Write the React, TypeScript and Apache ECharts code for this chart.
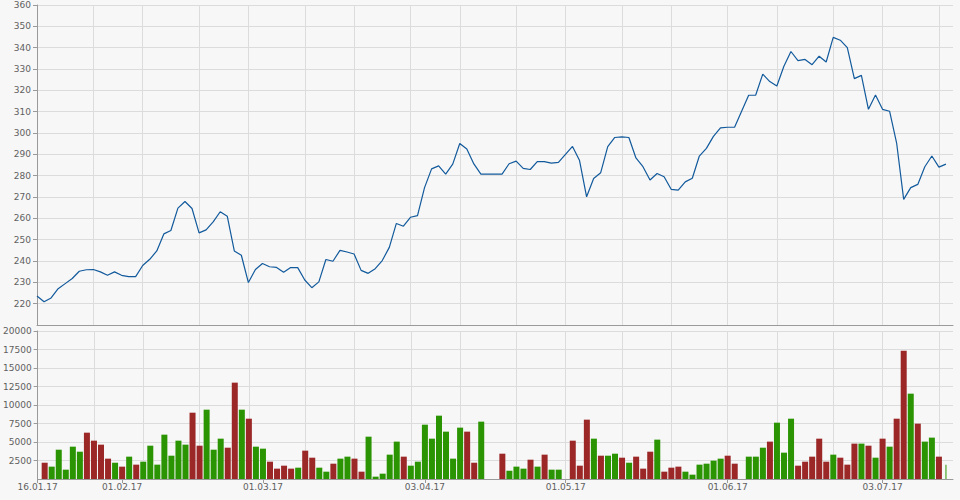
import React, { useEffect, useRef } from "react";
import * as echarts from "echarts";

// Trading-day slots (weekdays) starting 16.01.17
const firstDay = "2017-01-16";
const slotCount = 131;

// x-axis tick labels shown under the volume chart
const tickLabels = ["16.01.17", "01.02.17", "01.03.17", "03.04.17", "01.05.17", "01.06.17", "03.07.17"];

// slots carrying a vertical grid line
const gridSlots = [8, 15, 23, 30, 38, 45, 53, 60, 68, 75, 83, 90, 98, 105, 113, 120, 128];

// closing price per slot (null = no trading)
const closePrice = [
  223.6, 220.9, 222.7, 227.0, 229.4, 231.8, 235.2, 235.9, 236.0, 234.9,
  233.3, 234.9, 233.3, 232.7, 232.7, 237.9, 240.8, 244.7, 252.7, 254.3,
  264.8, 267.9, 264.6, 253.2, 254.6, 258.3, 263.1, 261.0, 244.7, 242.7,
  229.9, 236.0, 238.8, 237.3, 237.0, 234.7, 236.9, 236.9, 231.1, 227.5,
  230.2, 240.7, 239.9, 245.0, 244.2, 243.3, 235.6, 234.2, 236.4, 240.2,
  246.4, 257.6, 256.3, 260.5, 261.3, 274.4, 283.2, 284.6, 280.7, 285.4,
  295.1, 292.5, 285.5, 280.7, null, null, 280.7, 285.6, 286.8, 283.4,
  282.9, 286.6, 286.6, 285.9, 286.2, null, 293.7, 287.1, 270.1, 278.7,
  281.4, 293.6, 297.9, 298.2, 297.9, 288.3, 284.2, 278.0, 281.0, 279.5,
  273.6, 273.2, 277.1, 278.8, 289.2, 292.8, 298.4, 302.4, 302.7, 302.7,
  null, 317.7, 317.8, 327.6, 324.1, 322.0, 331.3, 338.2, 333.9, 334.5,
  332.0, 336.0, 333.3, 344.8, 343.5, 340.0, 325.5, 327.0, 311.1, 317.8,
  311.1, 310.2, 295.3, 268.9, 274.4, 275.9, 284.2, 289.2, 284.0, 285.4,
  null,
];

// traded volume per slot
const volume = [
  null, 2200, 1670, 3960, 1260, 4370, 3690, 6260, 5180, 4640,
  2750, 2200, 1670, 3020, 1940, 2340, 4500, 1940, 5990, 3150,
  5180, 4640, 8960, 4500, 9370, 3960, 5450, 4230, 13020, 9370,
  8150, 4370, 4100, 2340, 1400, 1800, 1400, 1530, 3830, 2880,
  1530, 990, 2070, 2750, 3020, 2750, 990, 5720, 315, 720,
  3290, 5050, 3020, 1800, 2340, 7340, 5450, 8560, 6400, 2750,
  6940, 6400, 2200, 7750, null, null, 3420, 1130, 1670, 1400,
  2610, 1670, 3290, 1260, 1260, null, 5180, 1800, 8020, 5450,
  3150, 3150, 3420, 2880, 2200, 3020, 1400, 3690, 5320, 990,
  1530, 1670, 990, 585, 1940, 2070, 2480, 2750, 3150, 2070,
  null, 3020, 3020, 4230, 5050, 7610, 3560, 8150, 1800, 2340,
  3020, 5450, 2340, 3290, 2880, 1940, 4780, 4780, 4500, 2880,
  5450, 4370, 8150, 17340, 11530, 7480, 5050, 5590, 3020, 1940,
  null,
];

// u = up day (green), d = down day (red), - = no bar
const direction = (
  "-duuuuuddd" + "dududuuuuu" + "uudduuuddu" + "duuddddudd" + "uuduudduuu" +
  "uuduuuuuuu" + "uddu--duuu" + "duduu-dddu" + "duududddud" + "dduuuuuudd" +
  "-uuuduuudd" + "dddudddudu" + "dudduduudu" + "-"
).split("");

// the last traded day is still running: drawn as a hairline bar
const lastDayPartial = true;

function makeSlots(start: string, n: number): string[] {
  const out: string[] = [];
  const d = new Date(start + "T12:00:00Z");
  while (out.length < n) {
    const wd = d.getUTCDay();
    if (wd !== 0 && wd !== 6) {
      const dd = String(d.getUTCDate()).padStart(2, "0");
      const mm = String(d.getUTCMonth() + 1).padStart(2, "0");
      const yy = String(d.getUTCFullYear()).slice(2);
      out.push(`${dd}.${mm}.${yy}`);
    }
    d.setUTCDate(d.getUTCDate() + 1);
  }
  return out;
}

const UP = "#2b9402";
const DOWN = "#9b2727";
const AXIS = "#9a9a9a";
const GRID = "#dcdcdc";
const TEXT = "#5f5f5f";
const FONT = "DejaVu Sans";

export default function App() {
  const ref = useRef<HTMLDivElement>(null);

  useEffect(() => {
    if (!ref.current) return;
    const chart = echarts.init(ref.current, undefined, { renderer: "svg" });
    const slots = makeSlots(firstDay, slotCount);
    const gridSet = new Set(gridSlots);
    const labelSet = new Set(tickLabels);

    let lastIdx = -1;
    volume.forEach((v, i) => {
      if (v != null) lastIdx = i;
    });

    const barData = volume.map((v, i) => {
      if (v == null || (lastDayPartial && i === lastIdx)) return null;
      return { value: v, itemStyle: { color: direction[i] === "u" ? UP : DOWN } };
    });
    const partialData = volume.map((v, i) =>
      lastDayPartial && i === lastIdx && v != null
        ? { value: v, itemStyle: { color: direction[i] === "u" ? UP : DOWN } }
        : null
    );

    const splitLine = {
      show: true,
      interval: (idx: number) => gridSet.has(idx),
      lineStyle: { color: GRID, width: 1 },
    };

    const labelStyle = { color: TEXT, fontFamily: FONT, fontSize: 9 };
    const plain = (v: number) => String(v);

    chart.setOption({
      animation: false,
      backgroundColor: "#f7f7f7",
      grid: [
        { left: 37, right: 7, top: 5, height: 320 },
        { left: 37, right: 7, top: 331, height: 148 },
      ],
      xAxis: [
        {
          type: "category",
          gridIndex: 0,
          data: slots,
          boundaryGap: false,
          axisLine: { show: true, lineStyle: { color: AXIS, width: 1 } },
          axisTick: { show: false },
          axisLabel: { show: false },
          splitLine,
        },
        {
          type: "category",
          gridIndex: 1,
          data: slots,
          boundaryGap: false,
          axisLine: { show: true, lineStyle: { color: AXIS, width: 1 } },
          axisTick: {
            show: true,
            length: 4,
            interval: (_i: number, v: string) => labelSet.has(v),
            lineStyle: { color: AXIS },
          },
          axisLabel: {
            ...labelStyle,
            margin: 3,
            interval: (_i: number, v: string) => labelSet.has(v),
          },
          splitLine,
        },
        {
          type: "category",
          gridIndex: 1,
          data: slots,
          boundaryGap: false,
          show: false,
        },
      ],
      yAxis: [
        {
          type: "value",
          gridIndex: 0,
          min: 210,
          max: 360,
          interval: 10,
          axisLine: { show: true, lineStyle: { color: AXIS, width: 1 } },
          axisTick: { show: true, length: 4, lineStyle: { color: AXIS } },
          axisLabel: { ...labelStyle, margin: 6, showMinLabel: false, formatter: plain },
          splitLine: { show: true, lineStyle: { color: GRID, width: 1 } },
        },
        {
          type: "value",
          gridIndex: 1,
          min: 0,
          max: 20000,
          interval: 2500,
          axisLine: { show: true, lineStyle: { color: AXIS, width: 1 } },
          axisTick: { show: true, length: 4, lineStyle: { color: AXIS } },
          axisLabel: { ...labelStyle, margin: 6, showMinLabel: false, formatter: plain },
          splitLine: { show: true, lineStyle: { color: GRID, width: 1 } },
        },
      ],
      series: [
        {
          name: "Close",
          type: "line",
          xAxisIndex: 0,
          yAxisIndex: 0,
          data: closePrice,
          connectNulls: true,
          showSymbol: false,
          symbol: "none",
          lineStyle: { color: "#125a9c", width: 1.2 },
          z: 5,
        },
        {
          name: "Volume",
          type: "bar",
          xAxisIndex: 1,
          yAxisIndex: 1,
          data: barData,
          barWidth: 6,
        },
        {
          name: "Volume (partial day)",
          type: "bar",
          xAxisIndex: 2,
          yAxisIndex: 1,
          data: partialData,
          barWidth: 1,
        },
      ],
    });

    return () => chart.dispose();
  }, []);

  return (
    <div
      ref={ref}
      style={{ position: "fixed", left: 0, top: 0, width: 960, height: 500, background: "#f7f7f7" }}
    />
  );
}
